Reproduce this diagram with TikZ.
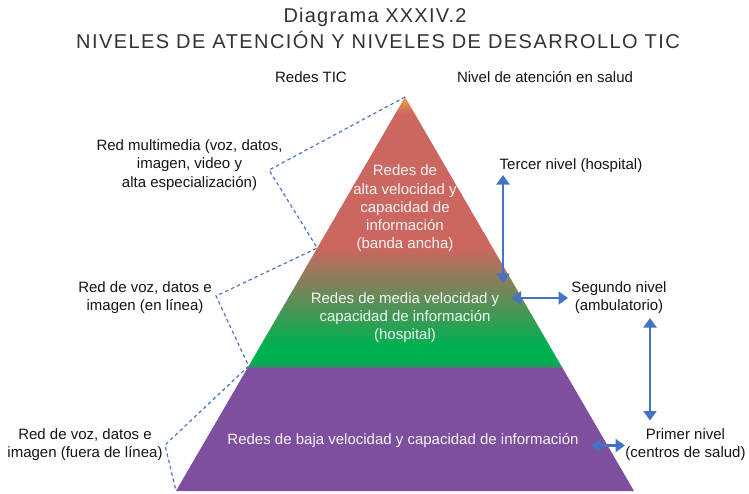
\documentclass[tikz,border=0pt]{standalone}
\usepackage{fontspec}
\setmainfont{Liberation Sans}
\newfontfamily\titlefont[LetterSpace=6]{Liberation Sans}
\newfontfamily\titlefontwide[LetterSpace=7.2]{Liberation Sans}
\usetikzlibrary{arrows.meta,calc}
\definecolor{pyrred}{RGB}{204,102,96}
\definecolor{pyrgreen}{RGB}{0,176,80}
\definecolor{pyrpurple}{RGB}{126,79,158}
\definecolor{pyrorange}{RGB}{240,160,70}
\definecolor{pyrmix}{RGB}{70,125,120}
\definecolor{linkblue}{RGB}{68,114,196}
\definecolor{titlegrey}{RGB}{50,50,50}
\definecolor{labelgrey}{RGB}{20,20,20}
\pgfdeclareverticalshading{upperpyr}{100bp}{color(0bp)=(pyrmix); color(25bp)=(pyrmix); color(26.1bp)=(pyrgreen); color(29.2bp)=(pyrgreen); color(47.1bp)=(pyrred); color(71.9bp)=(pyrred); color(75bp)=(pyrorange); color(100bp)=(pyrorange)}
\tikzset{
  lbl/.style={align=center, text=labelgrey, font=\fontsize{15}{18.3}\selectfont, inner sep=0pt},
  inlbl/.style={lbl, text=white!96!black},
  ttl/.style={text=titlegrey, font=\titlefont\fontsize{20}{24}\selectfont, inner sep=0pt, anchor=base},
  ttlwide/.style={ttl, font=\titlefontwide\fontsize{20}{24}\selectfont},
  dashlink/.style={draw=linkblue, line width=1.15pt, dash pattern=on 3.5pt off 3pt},
  levarrow/.style={draw=linkblue, line width=2.2pt, {Triangle[width=13pt,length=9.5pt]}-{Triangle[width=13pt,length=9.5pt]}}
}
\begin{document}
\begin{tikzpicture}[x=1pt,y=-1pt]
\useasboundingbox (0,0) rectangle (749,493);
% pyramid geometry
\coordinate (apex) at (405,97);
\coordinate (bl) at (176,491);
\coordinate (br) at (634,491);
\coordinate (ul) at ($(apex)!0.6878!(bl)$);
\coordinate (ur) at ($(apex)!0.6878!(br)$);
\coordinate (pl) at ($(apex)!0.6853!(bl)$);
\coordinate (pr) at ($(apex)!0.6853!(br)$);
% purple base
\fill[pyrpurple] (pl) -- (pr) -- (br) -- (bl) -- cycle;
% upper shaded part
\shade[shading=upperpyr] (apex) -- (ur) -- (ul) -- cycle;
% title
\node[ttl] (t1) at (375,22) {Diagrama XXXIV.2};
\node[ttlwide] (t2) at (378,48) {NIVELES DE ATENCIÓN Y NIVELES DE DESARROLLO TIC};
% headers
\node[lbl] (redestic) at (311,77) {Redes TIC};
\node[lbl] (nivelaten) at (545,77) {Nivel de atención en salud};
% inside texts
\node[inlbl] (alta) at (405,208.5) {Redes de\\alta velocidad y\\capacidad de\\información\\(banda ancha)};
\node[inlbl] (media) at (405,317.5) {Redes de media velocidad y\\capacidad de información\\(hospital)};
\node[inlbl] (baja) at (403,441) {Redes de baja velocidad y capacidad de información};
% left labels
\node[lbl] (multi) at (189.5,165) {Red multimedia (voz, datos,\\imagen, video y\\alta especialización)};
\node[lbl] (enlinea) at (145,297.5) {Red de voz, datos e\\imagen (en línea)};
\node[lbl] (fuera) at (85,444.5) {Red de voz, datos e\\imagen (fuera de línea)};
% right labels
\node[lbl] (tercer) at (571,166) {Tercer nivel (hospital)};
\node[lbl] (segundo) at (619,297.5) {Segundo nivel\\(ambulatorio)};
\node[lbl] (primer) at (685.5,444.5) {Primer nivel\\(centros de salud)};
% dashed bracket
\coordinate (c1) at (269,170);
\coordinate (e1) at ($(apex)!0.3832!(bl)$);
\coordinate (c2) at (216,296);
\coordinate (e2) at ($(apex)!0.6827!(bl)$);
\coordinate (c3) at (165,445);
\draw[dashlink] (apex) -- (c1) -- (e1) -- (c2) -- (e2) -- (c3) -- (bl);
% level arrows
\coordinate (a1t) at (503,175);
\coordinate (a1b) at (503,283);
\coordinate (a2l) at (511.5,298);
\coordinate (a2r) at (568,298);
\coordinate (a3t) at (650,318);
\coordinate (a3b) at (650,420.5);
\coordinate (a4l) at (591,445.5);
\coordinate (a4r) at (625,445.5);
\draw[levarrow] (a1t) -- (a1b);
\draw[levarrow] (a2l) -- (a2r);
\draw[levarrow] (a3t) -- (a3b);
\draw[levarrow] (a4l) -- (a4r);
\end{tikzpicture}
\end{document}
